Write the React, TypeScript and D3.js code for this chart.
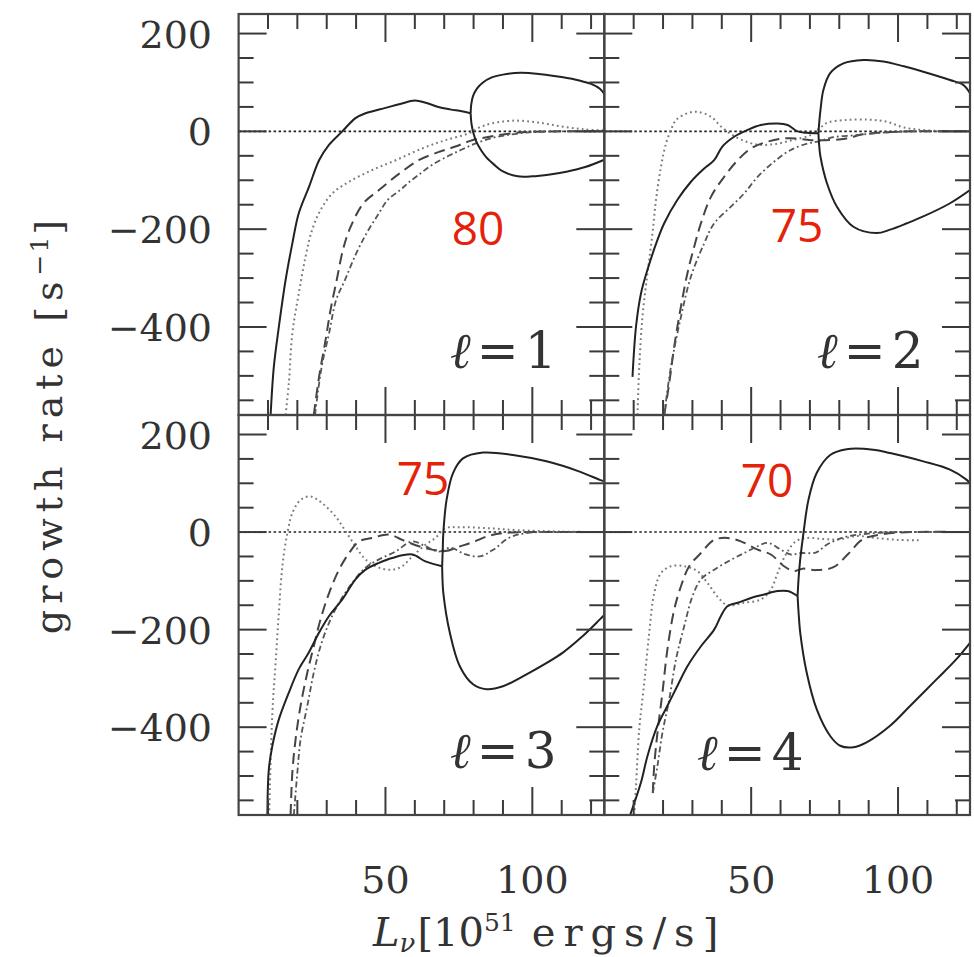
import React from 'react';
import * as d3 from 'd3';

type P = [number, number];

// ---------- axis / tick values ----------
const xMinorTicks = d3.range(10, 125, 10);
const xMajorTicks = [50, 100];
const xTickLabels = [50, 100];
const yMinorTicks = d3.range(-550, 241, 50);
const yMajorTicks = [-400, -200, 0, 200];
const yTickLabels = [200, 0, -200, -400];
const xDomain: P = [0, 124.5];
const yDomain: P = [-580, 240];

const panelLabels = ['1', '2', '3', '4'];
const redNumbers = ['80', '75', '75', '70'];

// ---------- l = 1 ----------
const l1Solid: P[] = [[10.9,-580],[12,-481],[13.7,-400],[16,-304],[18.3,-229],[20.5,-167],[24,-113],[27.4,-59],[30.7,-28],[35.3,0],[39.8,27],[43.2,37],[50,48],[55,56],[60,63],[64,58],[68,50],[72,45],[76,41],[79,37]];
const l1Upper: P[] = [[79,37],[79.2,55],[79.8,72],[81.2,88],[83.2,100],[86,110],[90,116],[96,120],[103,117],[110,111],[116,104],[120,97],[123,87],[124.5,76]];
const l1Lower: P[] = [[79,37],[79.3,15],[80,-5],[81,-22],[82.5,-38],[84.2,-52],[87,-68],[90,-82],[95,-92],[100,-92],[106,-88],[112,-82],[118,-73],[124.5,-58]];
const l1Dotted: P[] = [[16,-580],[17.1,-515],[18.3,-413],[20.5,-331],[22.8,-256],[25,-202],[27.9,-161],[31.9,-127],[37.6,-103],[45.5,-79],[53.5,-59],[62.5,-35],[70.4,-18],[78.4,-4],[82,8],[86,16],[94,22],[102,18],[110,10],[118,4],[124.5,2]];
const l1Dashed: P[] = [[25.6,-580],[27.4,-502],[29.6,-427],[31.3,-365],[33.4,-304],[35.5,-243],[37.8,-200],[42.5,-147],[47.8,-120],[54.8,-86],[61.3,-59],[68.2,-42],[73.8,-31],[79.5,-18],[85.4,-11],[93,-4],[100,-1],[110,0],[124.5,0]];
const l1DashDot: P[] = [[26,-580],[28.3,-481],[30.8,-413],[33.2,-345],[36.2,-304],[40,-250],[43.6,-208],[47.5,-170],[50.8,-140],[55,-120],[58,-104],[61.5,-88],[66,-68],[71.5,-50],[76,-37],[81,-24],[86,-14],[91,-8],[99,-2],[110,0],[124.5,0]];

// ---------- l = 2 ----------
const l2Solid: P[] = [[9.6,-502],[10.8,-399],[12.5,-331],[14.7,-283],[18.1,-222],[20.4,-188],[24.9,-140],[29.5,-103],[34,-76],[37.4,-59],[40.2,-31],[44.2,-11],[48.8,3],[53.3,13],[59,16],[62.4,13],[65.8,0],[69,-3],[72.9,-4]];
const l2Upper: P[] = [[72.9,-4],[73.2,20],[73.6,44],[74.6,85],[76.9,119],[81.4,139],[88.2,146],[95,143],[102,133],[108.6,122],[117.7,105],[122.2,95],[124.5,78]];
const l2Lower: P[] = [[72.9,-4],[73.1,-25],[73.6,-52],[75.8,-106],[79.2,-154],[84.8,-195],[92.7,-208],[97.3,-201],[103,-188],[108.6,-174],[117.7,-147],[124.5,-120]];
const l2Dotted: P[] = [[11.3,-580],[11.9,-481],[13,-379],[14.7,-290],[16.4,-209],[17.6,-140],[19.3,-72],[21,-25],[22.7,3],[24.4,23],[28.3,37],[31.7,40],[36.3,30],[39.7,10],[43,-5],[47,-18],[52,-27],[58,-26],[64,-18],[70,-8],[73,5],[76,18],[82,23],[90,24],[96,20],[102,8],[110,2],[124.5,0]];
const l2Dashed: P[] = [[20.4,-580],[22.1,-515],[23.8,-440],[26.1,-358],[28.3,-290],[30.6,-236],[32.9,-188],[36.3,-134],[40.8,-93],[45.4,-59],[49.9,-35],[55.6,-21],[62.4,-14],[70.3,-18],[75,-18],[82,-15],[88,-6],[95,-2],[105,0],[124.5,0]];
const l2DashDot: P[] = [[20.4,-580],[22.7,-481],[26.1,-379],[29.5,-297],[34,-229],[37.4,-188],[43.1,-154],[47.6,-127],[52.2,-93],[57.8,-62],[63.5,-38],[69.2,-25],[72.6,-21],[78,-12],[85,-8],[92,-4],[100,-1],[110,0],[124.5,0]];

// ---------- l = 3 ----------
const l3Solid: P[] = [[9.8,-580],[10.3,-486],[11.5,-438],[13.7,-384],[17.1,-329],[20.5,-281],[23.9,-247],[27.4,-206],[30.8,-172],[35.3,-138],[39.8,-97],[43.2,-77],[47.8,-63],[52.3,-53],[59.1,-46],[63.6,-60],[69.3,-70]];
const l3Upper: P[] = [[69.3,-70],[69.5,-35],[69.7,-2],[70.8,66],[73,121],[76.4,151],[83.2,163],[93.4,158],[104.8,145],[116.1,124],[123,107],[124.5,104]];
const l3Lower: P[] = [[69.3,-70],[69.4,-95],[69.7,-125],[71.9,-206],[75.3,-275],[79.8,-312],[84.4,-322],[90,-316],[99.1,-288],[110.4,-247],[117.2,-213],[123,-179],[124.5,-170]];
const l3Dotted: P[] = [[10.4,-580],[11.5,-370],[12.6,-268],[13.7,-166],[14.9,-70],[16.6,-2],[18.3,39],[21.1,66],[24.5,73],[28.5,59],[33,32],[36.4,2],[39.8,-29],[43.2,-56],[47.8,-73],[52.3,-77],[55.7,-70],[59.1,-50],[63.6,-26],[67,-12],[70.4,8],[75,10],[85,8],[95,4],[110,1],[124.5,0]];
const l3Dashed: P[] = [[17.7,-580],[18.3,-493],[19.4,-425],[21.1,-356],[23.4,-288],[25.6,-234],[27.9,-179],[30.8,-125],[34.2,-77],[37.6,-43],[41,-19],[45.5,-12],[51.2,-5],[55.7,-16],[61.4,-29],[65.9,-36],[70.4,-39],[75,-30],[80,-20],[85,-8],[90,-2],[100,0],[124.5,0]];
const l3DashDot: P[] = [[18.8,-580],[20,-493],[21.1,-425],[23.4,-356],[25.6,-288],[27.9,-234],[30.8,-186],[34.2,-145],[38.7,-104],[43.2,-73],[47.8,-56],[53.4,-40],[59.1,-19],[63.6,-29],[68.2,-40],[72,-32],[77,-45],[82,-50],[87,-35],[92,-12],[98,-2],[110,0],[124.5,0]];

// ---------- l = 4 ----------
const l4Solid: P[] = [[8.8,-580],[12.5,-513],[14.7,-459],[18.1,-397],[21.5,-356],[24.9,-315],[28.3,-275],[32.9,-234],[37.4,-200],[39.7,-172],[41.9,-152],[45.4,-145],[49.9,-135],[54.4,-128],[59,-121],[62.4,-121],[65.8,-131]];
const l4Upper: P[] = [[65.8,-131],[66.2,-90],[66.7,-56],[67.8,-2],[69.5,66],[72.3,121],[76.9,158],[82.5,170],[91.6,169],[97.3,162],[108.6,145],[117.7,128],[123.4,107],[124.5,100]];
const l4Lower: P[] = [[65.8,-131],[66.2,-170],[66.7,-206],[68.9,-288],[72.3,-363],[76.9,-418],[80.3,-438],[84.8,-441],[89.3,-431],[97.3,-397],[104,-357],[113.1,-302],[119.8,-261],[124.5,-227]];
const l4Dotted: P[] = [[10.2,-580],[10.8,-520],[11.9,-404],[13.6,-309],[15.3,-206],[17,-125],[19.3,-84],[22.7,-70],[27.2,-70],[31.7,-80],[35.1,-104],[38.5,-132],[41.9,-150],[47.6,-145],[53.3,-138],[56.7,-118],[59,-84],[61.8,-46],[65.2,-19],[69.2,-12],[74,-14],[80,-15],[86,-8],[92,-12],[100,-16],[107,-17]];
const l4Dashed: P[] = [[16.5,-535],[17,-479],[18.1,-411],[19.8,-329],[21.5,-240],[23.8,-159],[26.1,-111],[28.9,-70],[32.9,-43],[37.4,-16],[41.9,-12],[46.5,-19],[52.2,-36],[56.7,-46],[61.2,-70],[64.6,-80],[67.5,-75],[72,-78],[78,-72],[83,-45],[88,-15],[95,-4],[105,0],[124.5,0]];
const l4DashDot: P[] = [[16.5,-535],[18.1,-479],[19.8,-411],[22.1,-343],[24.4,-261],[27.2,-193],[30,-132],[32.9,-97],[37.4,-77],[43.1,-57],[47.6,-43],[52.2,-29],[55.6,-22],[60.1,-36],[63.5,-46],[66.9,-43],[72,-42],[76,-25],[82,-10],[90,-3],[100,0],[124.5,0]];

const panels = [
  { solid: l1Solid, upper: l1Upper, lower: l1Lower, dotted: l1Dotted, dashed: l1Dashed, dashDot: l1DashDot },
  { solid: l2Solid, upper: l2Upper, lower: l2Lower, dotted: l2Dotted, dashed: l2Dashed, dashDot: l2DashDot },
  { solid: l3Solid, upper: l3Upper, lower: l3Lower, dotted: l3Dotted, dashed: l3Dashed, dashDot: l3DashDot },
  { solid: l4Solid, upper: l4Upper, lower: l4Lower, dotted: l4Dotted, dashed: l4Dashed, dashDot: l4DashDot },
];

// ---------- layout ----------
const cols: P[] = [[238.6, 604.3], [604.3, 970]];
const rows: P[] = [[14, 415], [415, 815]];
const labelPos: P[] = [[450, 368], [817, 368], [450, 768], [697, 770]];
const redPos: P[] = [[478, 245], [797, 242], [423, 495], [767, 497]];

const serif = "'DejaVu Serif', serif";
const tickColor = '#3a3a3a';

export default function App() {
  return (
    <svg width={974} height={957} style={{ position: 'absolute', left: 0, top: 0, background: '#fff' }}>
      <defs>
        {panels.map((_, i) => {
          const c = i % 2, r = Math.floor(i / 2);
          return (
            <clipPath id={`clip${i}`} key={i}>
              <rect x={cols[c][0]} y={rows[r][0]} width={cols[c][1] - cols[c][0]} height={rows[r][1] - rows[r][0]} />
            </clipPath>
          );
        })}
      </defs>
      {panels.map((p, i) => {
        const c = i % 2, r = Math.floor(i / 2);
        const x = d3.scaleLinear().domain(xDomain).range(cols[c]);
        const y = d3.scaleLinear().domain(yDomain).range([rows[r][1], rows[r][0]]);
        const line = d3.line<P>().x(d => x(d[0])).y(d => y(d[1])).curve(d3.curveCatmullRom.alpha(0.5));
        const [x0, x1] = cols[c];
        const [y0, y1] = rows[r];
        return (
          <g key={i}>
            <g clipPath={`url(#clip${i})`} fill="none">
              <line x1={x0} x2={x1} y1={y(0)} y2={y(0)} stroke="#222" strokeWidth={1.6} strokeDasharray="2.5 2.5" />
              <path d={line(p.dotted) || ''} stroke="#7a7a7a" strokeWidth={2} strokeDasharray="1.8 3.2" />
              <path d={line(p.dashed) || ''} stroke="#444" strokeWidth={2} strokeDasharray="11 6" />
              <path d={line(p.dashDot) || ''} stroke="#555" strokeWidth={1.8} strokeDasharray="6 3 1.8 3" />
              <path d={line(p.solid) || ''} stroke="#222" strokeWidth={2} />
              <path d={line(p.upper) || ''} stroke="#222" strokeWidth={2} />
              <path d={line(p.lower) || ''} stroke="#222" strokeWidth={2} />
            </g>
            <g stroke={tickColor} strokeWidth={2}>
              {xMinorTicks.map(t => {
                const len = xMajorTicks.includes(t) ? 28 : 15;
                return (
                  <g key={`x${t}`}>
                    <line x1={x(t)} x2={x(t)} y1={y1} y2={y1 - len} />
                    <line x1={x(t)} x2={x(t)} y1={y0} y2={y0 + len} />
                  </g>
                );
              })}
              {yMinorTicks.map(t => {
                const len = yMajorTicks.includes(t) ? 28 : 15;
                return (
                  <g key={`y${t}`}>
                    <line x1={x0} x2={x0 + len} y1={y(t)} y2={y(t)} />
                    <line x1={x1} x2={x1 - len} y1={y(t)} y2={y(t)} />
                  </g>
                );
              })}
            </g>
            <rect x={x0} y={y0} width={x1 - x0} height={y1 - y0} fill="none" stroke="#444" strokeWidth={2.2} />
            {c === 0 && yTickLabels.map(t => (
              <text key={`yl${t}`} x={212} y={y(t) + 14} textAnchor="end" fontFamily={serif} fontSize={38} fill="#333">
                {t < 0 ? `\u2212${Math.abs(t)}` : `${t}`}
              </text>
            ))}
            {r === 1 && xTickLabels.map(t => (
              <text key={`xl${t}`} x={x(t)} y={893} textAnchor="middle" fontFamily={serif} fontSize={38} fill="#333">{t}</text>
            ))}
            <text x={labelPos[i][0]} y={labelPos[i][1]} fontFamily={serif} fontSize={50} fill="#333">
              <tspan fontStyle="italic">{'\u2113'}</tspan>
              <tspan dx={6}>=</tspan>
              <tspan dx={6}>{panelLabels[i]}</tspan>
            </text>
            <text x={redPos[i][0]} y={redPos[i][1]} textAnchor="middle" fontFamily="'Open Sans', sans-serif" fontSize={46} fill="#e4220a">{redNumbers[i]}</text>
          </g>
        );
      })}
      <text transform="translate(62,424) rotate(-90)" textAnchor="middle" fontFamily={serif} fontSize={38} letterSpacing={6} fill="#333">
        growth rate [s<tspan dy={-14} fontSize={25} letterSpacing={2}>{'\u22121'}</tspan><tspan dy={14}>]</tspan>
      </text>
      <text x={373} y={946} fontFamily={serif} fontSize={40} fill="#333">
        <tspan fontStyle="italic">L</tspan>
        <tspan fontStyle="italic" fontSize={26} dy={6}>{'\u03bd'}</tspan>
        <tspan dy={-6} dx={2}>[10</tspan>
        <tspan fontSize={25} dy={-15}>51</tspan>
        <tspan dy={15} dx={16} letterSpacing={8}>ergs/s]</tspan>
      </text>
    </svg>
  );
}
